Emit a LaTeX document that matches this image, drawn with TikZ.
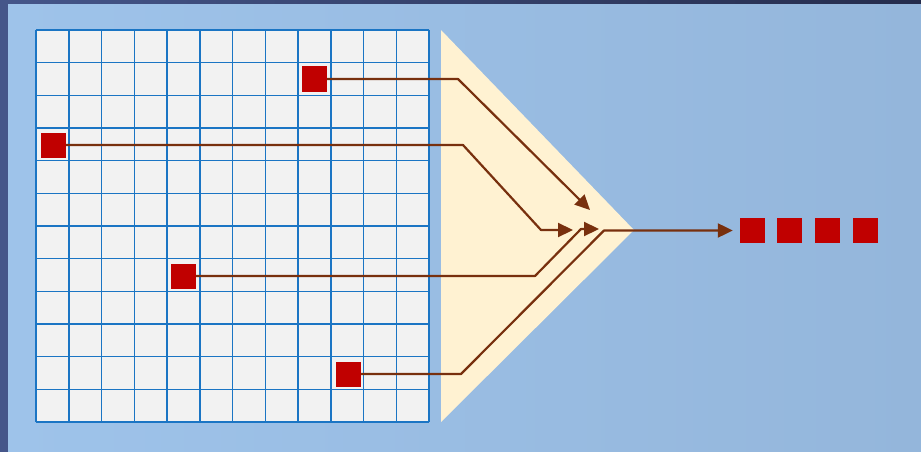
\documentclass[tikz,border=0pt]{standalone}
\usepackage{xcolor}
\usetikzlibrary{arrows.meta, positioning}
\definecolor{gridblue}{HTML}{1B75C4}
\definecolor{cellgray}{HTML}{F2F2F2}
\definecolor{pixred}{HTML}{C00000}
\definecolor{linkbrown}{HTML}{78300E}
\definecolor{funnel}{HTML}{FFF2D2}
\definecolor{frameleft}{HTML}{45568A}
\definecolor{frameright}{HTML}{252C4C}
\definecolor{bgleft}{HTML}{9EC3EA}
\definecolor{bgmid}{HTML}{8DADCF}
\definecolor{bgright}{HTML}{94B6DB}
\begin{document}
\begin{tikzpicture}[x=1pt, y=-1pt, >={Triangle[length=15pt, width=14pt]}, pix/.style={rectangle, fill=pixred, minimum size=25pt, inner sep=0pt}, link/.style={draw=linkbrown, line width=2.2pt, line join=round}]
\useasboundingbox (0,0) rectangle (921,452);
\shade [left color=frameleft, right color=frameright] (0,0) rectangle (921,452);
\shade [left color=bgleft, middle color=bgmid, right color=bgright] (8,5) rectangle (921,452);
\fill [cellgray] (36,30) rectangle (429,422);
\foreach \i in {0,...,12} {
  \draw [gridblue, line width=1.5pt] (36+\i*32.75,30) -- (36+\i*32.75,422);
  \draw [gridblue, line width=1.5pt] (36,30+\i*32.667) -- (429,30+\i*32.667);
}
\fill [funnel] (441,30) -- (441,422) -- (634,230) -- cycle;
\node [pix] (p1) at (314.5,79) {};
\node [pix] (p2) at (53.5,145) {};
\node [pix] (p3) at (183.5,276) {};
\node [pix] (p4) at (348.5,374) {};
\node [pix] (o1) at (752.5,230.5) {};
\node [pix, right=12pt of o1] (o2) {};
\node [pix, right=12pt of o2] (o3) {};
\node [pix, right=13pt of o3] (o4) {};
\coordinate (b1) at (458,79);
\coordinate (t1) at (590,210);
\coordinate (b2) at (463,145);
\coordinate (c2) at (541,230);
\coordinate (t2) at (573,230);
\coordinate (b3) at (535,276);
\coordinate (c3) at (581,229);
\coordinate (t3) at (599,229);
\coordinate (b4) at (461,374);
\coordinate (c4) at (604,230.5);
\draw [link, ->] (p1.east) -- (b1) -- (t1);
\draw [link, ->] (p2.east) -- (b2) -- (c2) -- (t2);
\draw [link, ->] (p3.east) -- (b3) -- (c3) -- (t3);
\draw [link, ->, shorten >=7pt] (p4.east) -- (b4) -- (c4) -- (o1.west);
\end{tikzpicture}
\end{document}
